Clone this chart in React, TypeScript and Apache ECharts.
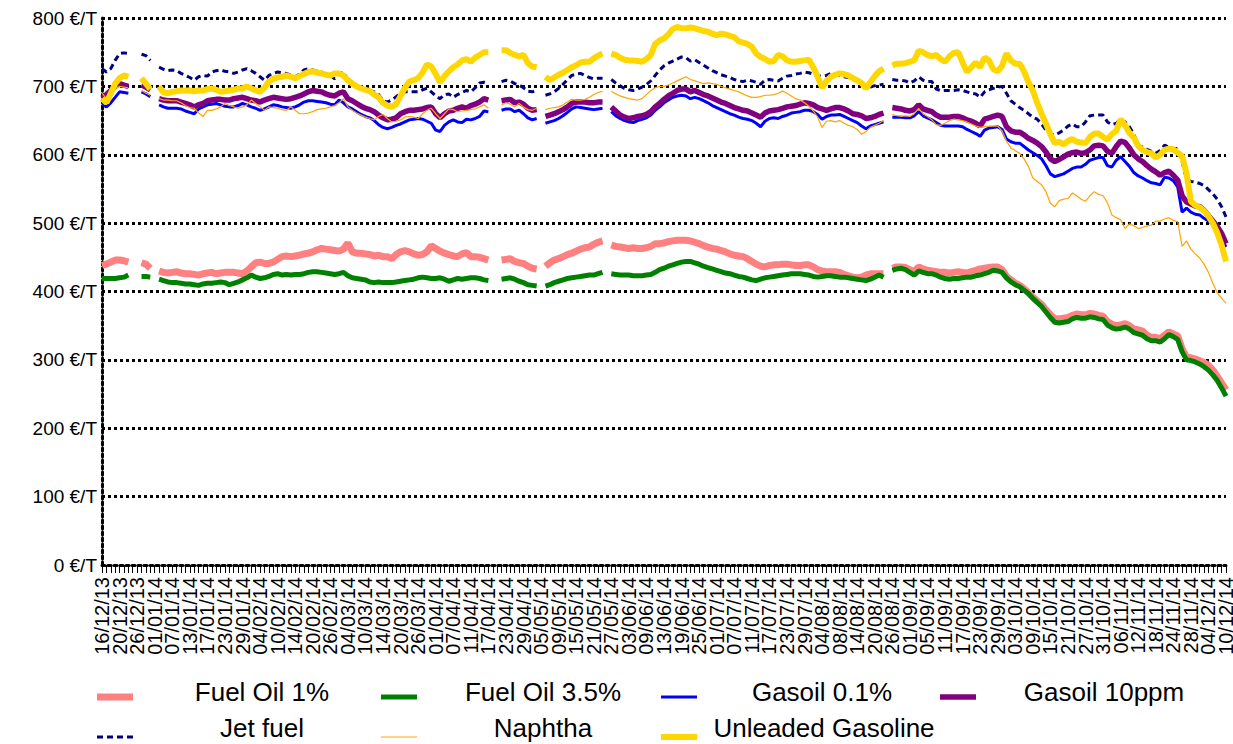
import React, { useEffect, useRef } from "react";
import * as echarts from "echarts";

const categories: string[] = [
  "16/12/13","17/12/13","18/12/13","19/12/13","20/12/13","23/12/13","24/12/13","25/12/13","26/12/13","27/12/13","30/12/13","31/12/13",
  "01/01/14","02/01/14","03/01/14","06/01/14","07/01/14","08/01/14","09/01/14","10/01/14","13/01/14","14/01/14","15/01/14","16/01/14","17/01/14","20/01/14","21/01/14","22/01/14","23/01/14","24/01/14","27/01/14","28/01/14","29/01/14","30/01/14","31/01/14",
  "03/02/14","04/02/14","05/02/14","06/02/14","07/02/14","10/02/14","11/02/14","12/02/14","13/02/14","14/02/14","17/02/14","18/02/14","19/02/14","20/02/14","21/02/14","24/02/14","25/02/14","26/02/14","27/02/14","28/02/14",
  "03/03/14","04/03/14","05/03/14","06/03/14","07/03/14","10/03/14","11/03/14","12/03/14","13/03/14","14/03/14","17/03/14","18/03/14","19/03/14","20/03/14","21/03/14","24/03/14","25/03/14","26/03/14","27/03/14","28/03/14","31/03/14",
  "01/04/14","02/04/14","03/04/14","04/04/14","07/04/14","08/04/14","09/04/14","10/04/14","11/04/14","14/04/14","15/04/14","16/04/14","17/04/14","18/04/14","21/04/14","22/04/14","23/04/14","24/04/14","25/04/14","28/04/14","29/04/14","30/04/14",
  "01/05/14","02/05/14","05/05/14","06/05/14","07/05/14","08/05/14","09/05/14","12/05/14","13/05/14","14/05/14","15/05/14","16/05/14","19/05/14","20/05/14","21/05/14","22/05/14","23/05/14","26/05/14","27/05/14","28/05/14","30/05/14",
  "02/06/14","03/06/14","04/06/14","05/06/14","06/06/14","09/06/14","10/06/14","11/06/14","12/06/14","13/06/14","16/06/14","17/06/14","18/06/14","19/06/14","20/06/14","23/06/14","24/06/14","25/06/14","26/06/14","27/06/14","30/06/14",
  "01/07/14","02/07/14","03/07/14","04/07/14","07/07/14","08/07/14","09/07/14","10/07/14","11/07/14","14/07/14","15/07/14","16/07/14","17/07/14","18/07/14","21/07/14","22/07/14","23/07/14","24/07/14","25/07/14","28/07/14","29/07/14","30/07/14","31/07/14",
  "01/08/14","04/08/14","05/08/14","06/08/14","07/08/14","08/08/14","11/08/14","12/08/14","13/08/14","14/08/14","15/08/14","18/08/14","19/08/14","20/08/14","21/08/14","22/08/14","25/08/14","26/08/14","27/08/14","28/08/14","29/08/14",
  "01/09/14","02/09/14","03/09/14","04/09/14","05/09/14","08/09/14","09/09/14","10/09/14","11/09/14","12/09/14","15/09/14","16/09/14","17/09/14","18/09/14","19/09/14","22/09/14","23/09/14","24/09/14","25/09/14","26/09/14","29/09/14","30/09/14",
  "01/10/14","02/10/14","03/10/14","06/10/14","07/10/14","08/10/14","09/10/14","10/10/14","13/10/14","14/10/14","15/10/14","16/10/14","17/10/14","20/10/14","21/10/14","22/10/14","23/10/14","24/10/14","27/10/14","28/10/14","29/10/14","30/10/14","31/10/14",
  "03/11/14","04/11/14","05/11/14","06/11/14","07/11/14","10/11/14","11/11/14","12/11/14","13/11/14","14/11/14","17/11/14","18/11/14","19/11/14","20/11/14","21/11/14","24/11/14","25/11/14","26/11/14","27/11/14","28/11/14",
  "01/12/14","02/12/14","03/12/14","04/12/14","05/12/14","08/12/14","09/12/14","10/12/14",
];

// every 4th category carries a tick label
const LABEL_EVERY = 4;

const fuelOil1: (number | null)[] = [
  438, 440, 443, 446, 446, 445, 443, null, null, 442,
  440, 434, null, 430, 428, 427, 428, 429, 427, 426,
  426, 425, 424, 426, 427, 428, 426, 427, 428, 428,
  428, 427, 426, 430, 436, 442, 443, 441, 441, 443,
  447, 451, 452, 451, 452, 453, 455, 456, 458, 461,
  463, 462, 461, 460, 459, 462, 471, 458, 456, 456,
  455, 454, 452, 453, 451, 451, 448, 454, 458, 460,
  458, 455, 453, 454, 458, 467, 463, 459, 456, 454,
  452, 451, 455, 457, 451, 451, 450, 448, 446, null,
  null, 446, 447, 448, 444, 442, 441, 437, 434, 433,
  null, 437, 442, 446, 448, 451, 454, 456, 459, 462,
  464, 465, 469, 472, 474, null, 468, 466, 465, 464,
  463, 464, 463, 463, 464, 466, 470, 470, 471, 473,
  474, 475, 475, 475, 474, 472, 470, 467, 465, 463,
  462, 460, 458, 455, 453, 452, 451, 448, 444, 440,
  437, 436, 438, 439, 439, 440, 440, 439, 438, 438,
  439, 439, 436, 432, 430, 429, 429, 429, 428, 425,
  423, 421, 420, 421, 424, 426, 426, 426, 426, null,
  434, 436, 436, 435, 432, 429, 436, 433, 431, 430,
  429, 428, 428, 427, 428, 429, 428, 427, 429, 431,
  433, 434, 435, 436, 436, 432, 422, 417, 412, 409,
  404, 398, 392, 386, 381, 373, 366, 360, 360, 361,
  362, 365, 367, 366, 366, 368, 367, 365, 364, 356,
  352, 350, 351, 353, 350, 345, 344, 342, 336, 333,
  333, 331, 336, 341, 338, 335, 316, 304, 303, 301,
  299, 296, 292, 285, 276, 266, 256,
];

const fuelOil35: (number | null)[] = [
  419, 419, 419, 419, 420, 421, 424, null, null, 422,
  422, 421, null, 418, 416, 414, 413, 413, 412, 411,
  411, 410, 409, 411, 412, 412, 413, 414, 413, 410,
  412, 414, 417, 420, 424, 421, 419, 420, 422, 425,
  426, 424, 425, 424, 425, 425, 426, 428, 429, 429,
  428, 427, 426, 425, 426, 428, 423, 420, 419, 418,
  417, 414, 413, 414, 413, 413, 413, 414, 415, 416,
  417, 418, 420, 421, 420, 419, 419, 420, 418, 415,
  417, 419, 418, 419, 420, 420, 419, 417, 416, null,
  null, 418, 419, 420, 418, 415, 413, 410, 409, 408,
  null, 408, 410, 413, 415, 417, 419, 420, 421, 422,
  423, 424, 424, 426, 428, null, 426, 425, 424, 424,
  424, 423, 423, 423, 424, 425, 428, 432, 434, 437,
  439, 441, 443, 444, 444, 442, 440, 437, 435, 433,
  431, 429, 427, 426, 424, 422, 421, 419, 417, 416,
  418, 420, 421, 422, 423, 424, 425, 426, 426, 426,
  425, 424, 422, 421, 422, 423, 423, 422, 421, 421,
  420, 419, 418, 417, 416, 418, 421, 424, 421, null,
  431, 433, 434, 432, 428, 424, 430, 428, 426, 426,
  424, 421, 419, 418, 419, 419, 420, 421, 421, 423,
  424, 426, 428, 431, 430, 428, 420, 414, 410, 407,
  402, 397, 390, 384, 378, 370, 362, 355, 354, 355,
  356, 360, 362, 361, 361, 363, 362, 360, 359, 351,
  347, 345, 346, 348, 345, 340, 338, 336, 331, 328,
  328, 326, 331, 337, 334, 330, 312, 300, 299, 297,
  294, 290, 285, 278, 270, 259, 247,
];

const gasoil01: (number | null)[] = [
  674, 670, 676, 684, 692, 691, 690, null, null, 692,
  689, 685, null, 673, 670, 668, 668, 668, 667, 664,
  662, 660, 667, 670, 673, 674, 675, 673, 671, 670,
  670, 672, 675, 673, 670, 668, 665, 667, 670, 673,
  672, 670, 669, 668, 670, 673, 677, 679, 679, 678,
  677, 676, 674, 673, 680, 676, 670, 667, 663, 659,
  656, 654, 650, 644, 640, 638, 640, 643, 645, 648,
  651, 652, 653, 652, 649, 646, 636, 634, 643, 648,
  651, 648, 647, 652, 651, 653, 656, 664, 663, null,
  null, 665, 667, 667, 663, 665, 660, 654, 651, 653,
  null, 646, 648, 650, 653, 657, 662, 667, 670, 669,
  668, 667, 666, 667, 668, null, 663, 657, 653, 650,
  648, 647, 650, 652, 654, 658, 665, 670, 676, 680,
  684, 686, 687, 686, 682, 684, 682, 679, 676, 672,
  669, 666, 663, 660, 658, 655, 653, 652, 650, 646,
  641, 649, 653, 654, 653, 656, 658, 661, 662, 663,
  665, 665, 663, 659, 652, 656, 658, 658, 659, 656,
  653, 650, 647, 642, 638, 642, 644, 646, 648, null,
  655, 655, 655, 654, 654, 657, 663, 657, 654, 651,
  647, 643, 642, 642, 642, 642, 641, 637, 634, 631,
  627, 636, 639, 640, 641, 637, 623, 619, 617, 617,
  612, 607, 603, 599, 594, 584, 572, 568, 570, 572,
  576, 580, 582, 582, 586, 592, 594, 596, 596, 584,
  582, 592, 597, 590, 583, 574, 569, 566, 562, 559,
  558, 556, 567, 566, 562, 553, 516, 522, 516, 513,
  512, 507, 503, 498, 488, 477, 465,
];

const gasoil10ppm: (number | null)[] = [
  683, 688, 694, 700, 704, 702, 700, null, null, 702,
  699, 695, null, 682, 680, 679, 679, 679, 677, 675,
  673, 670, 673, 675, 679, 680, 681, 681, 680, 680,
  682, 683, 684, 682, 680, 679, 677, 680, 682, 684,
  683, 682, 681, 682, 684, 686, 689, 692, 694, 693,
  692, 689, 687, 686, 690, 692, 682, 679, 675, 671,
  668, 666, 663, 658, 654, 651, 652, 654, 660, 663,
  665, 665, 666, 667, 669, 670, 660, 654, 660, 664,
  665, 668, 670, 668, 672, 674, 677, 682, 680, null,
  null, 679, 680, 681, 676, 677, 674, 668, 665, 666,
  null, 656, 658, 660, 663, 666, 670, 675, 677, 677,
  677, 676, 676, 677, 677, null, 670, 664, 658, 655,
  653, 654, 656, 657, 659, 663, 670, 675, 681, 686,
  690, 694, 696, 696, 692, 694, 691, 688, 686, 683,
  680, 677, 675, 672, 669, 667, 665, 664, 661, 658,
  655, 661, 664, 665, 666, 668, 670, 671, 672, 674,
  676, 675, 673, 669, 667, 665, 667, 669, 669, 667,
  664, 660, 659, 657, 653, 654, 656, 659, 661, null,
  669, 668, 667, 665, 664, 666, 673, 667, 665, 663,
  658, 655, 655, 655, 656, 656, 654, 651, 649, 646,
  642, 652, 654, 656, 658, 656, 641, 635, 633, 633,
  629, 624, 621, 617, 612, 604, 594, 590, 593, 597,
  601, 603, 604, 602, 603, 607, 613, 614, 613, 605,
  602, 612, 620, 618, 610, 600, 594, 590, 584, 579,
  575, 570, 574, 576, 570, 563, 540, 531, 528, 525,
  524, 519, 511, 503, 495, 485, 470,
];

const jetFuel: (number | null)[] = [
  726, 721, 726, 738, 748, 749, 748, null, null, 747,
  745, 738, null, 728, 725, 723, 724, 723, 719, 716,
  713, 709, 714, 716, 715, 721, 723, 724, 722, 721,
  719, 721, 724, 726, 723, 719, 714, 709, 716, 719,
  721, 720, 719, 716, 714, 718, 724, 726, 724, 722,
  721, 718, 716, 711, 718, 721, 709, 704, 700, 697,
  695, 694, 692, 688, 679, 677, 680, 685, 690, 692,
  692, 692, 692, 695, 697, 692, 686, 682, 688, 689,
  684, 688, 691, 694, 692, 698, 705, 706, 704, null,
  null, 707, 709, 708, 704, 702, 698, 693, 692, 694,
  null, 687, 689, 692, 697, 703, 710, 716, 718, 719,
  716, 713, 711, 712, 712, null, 710, 705, 701, 697,
  695, 694, 696, 699, 703, 708, 716, 724, 730, 734,
  737, 740, 743, 742, 737, 739, 735, 731, 727, 723,
  720, 717, 715, 713, 710, 708, 707, 709, 708, 706,
  703, 709, 710, 709, 708, 712, 715, 716, 718, 719,
  721, 720, 718, 715, 715, 716, 719, 718, 716, 714,
  713, 711, 709, 704, 697, 699, 701, 702, 703, null,
  710, 709, 709, 708, 705, 708, 714, 709, 707, 707,
  696, 694, 694, 694, 694, 695, 694, 692, 690, 689,
  684, 692, 695, 697, 699, 700, 690, 679, 674, 669,
  665, 660, 655, 652, 645, 636, 630, 629, 632, 636,
  642, 645, 641, 641, 648, 657, 658, 658, 658, 648,
  644, 646, 652, 648, 641, 630, 614, 611, 608, 605,
  602, 606, 614, 611, 609, 609, 590, 564, 561, 560,
  558, 555, 549, 543, 535, 524, 509,
];

const naphtha: (number | null)[] = [
  690, 682, 690, 697, 700, 699, 698, null, null, 694,
  690, 687, null, 682, 680, 680, 679, 679, 676, 672,
  669, 668, 661, 656, 665, 665, 667, 670, 675, 672,
  670, 668, 670, 673, 680, 675, 670, 665, 670, 669,
  668, 666, 665, 670, 665, 660, 660, 661, 663, 666,
  667, 668, 670, 672, 676, 682, 670, 665, 661, 658,
  655, 653, 651, 656, 659, 653, 648, 649, 651, 655,
  656, 655, 653, 660, 665, 668, 660, 653, 660, 667,
  666, 663, 664, 665, 666, 667, 670, 673, 668, null,
  null, 673, 676, 674, 670, 675, 670, 666, 665, 668,
  null, 666, 668, 669, 670, 673, 677, 681, 680, 680,
  681, 684, 688, 691, 693, null, 693, 689, 686, 684,
  682, 681, 680, 682, 688, 694, 698, 700, 700, 702,
  705, 708, 711, 714, 710, 708, 706, 704, 705, 704,
  703, 700, 698, 696, 694, 692, 689, 686, 684, 684,
  685, 687, 687, 688, 690, 693, 690, 686, 682, 680,
  676, 671, 664, 655, 640, 649, 650, 648, 650, 646,
  643, 641, 637, 630, 634, 640, 643, 646, 650, null,
  659, 657, 656, 657, 656, 660, 668, 660, 656, 651,
  644, 643, 646, 650, 652, 651, 650, 648, 645, 642,
  640, 641, 642, 642, 642, 635, 620, 610, 606, 602,
  594, 583, 566, 561, 556, 546, 529, 524, 533, 535,
  536, 544, 540, 535, 532, 540, 546, 542, 540, 530,
  512, 508, 505, 492, 499, 496, 492, 494, 496, 497,
  503, 503, 506, 508, 504, 502, 466, 474, 462, 455,
  449, 440, 428, 412, 398, 390, 383,
];

const unleaded: (number | null)[] = [
  682, 676, 690, 704, 712, 716, 714, null, null, 712,
  704, 696, null, 700, 691, 690, 692, 693, 694, 694,
  694, 693, 694, 694, 696, 697, 695, 692, 693, 694,
  695, 697, 697, 700, 697, 694, 692, 698, 707, 711,
  713, 714, 716, 714, 712, 715, 718, 721, 722, 720,
  719, 717, 716, 719, 719, 716, 709, 704, 700, 697,
  695, 693, 688, 684, 676, 672, 670, 674, 686, 698,
  707, 709, 712, 720, 732, 729, 718, 706, 715, 722,
  728, 732, 738, 740, 736, 742, 746, 750, 750, null,
  null, 753, 753, 749, 746, 744, 746, 734, 729, 728,
  null, 714, 709, 713, 717, 720, 724, 728, 731, 735,
  736, 736, 741, 745, 748, null, 748, 746, 742, 739,
  738, 738, 737, 736, 740, 746, 762, 767, 770, 776,
  784, 787, 785, 785, 786, 785, 783, 781, 780, 777,
  775, 777, 776, 774, 772, 766, 764, 762, 758, 748,
  743, 740, 736, 737, 746, 744, 738, 736, 736, 737,
  738, 739, 728, 714, 698, 708, 714, 717, 719, 718,
  716, 712, 709, 705, 697, 706, 715, 722, 726, null,
  731, 733, 733, 734, 736, 738, 752, 750, 746, 744,
  746, 740, 736, 744, 749, 750, 735, 721, 728, 735,
  728, 742, 738, 725, 722, 730, 748, 738, 733, 733,
  722, 706, 694, 676, 660, 645, 630, 617, 619, 615,
  620, 623, 619, 618, 617, 626, 631, 631, 626, 622,
  630, 635, 652, 643, 632, 625, 613, 607, 604, 602,
  596, 600, 607, 609, 608, 603, 598, 573, 532, 526,
  523, 518, 510, 500, 486, 468, 444,
];

const yTicks = { min: 0, max: 800, interval: 100, unit: "€/T" };

const seriesDefs = [
  { name: "Fuel Oil 1%", data: fuelOil1, color: "#FF8080", width: 7, dash: null as number[] | null },
  { name: "Fuel Oil 3.5%", data: fuelOil35, color: "#008000", width: 5, dash: null },
  { name: "Gasoil 0.1%", data: gasoil01, color: "#0000FF", width: 3, dash: null },
  { name: "Gasoil 10ppm", data: gasoil10ppm, color: "#800080", width: 5.5, dash: null },
  { name: "Jet fuel", data: jetFuel, color: "#000080", width: 3, dash: [6, 4] },
  { name: "Naphtha", data: naphtha, color: "#FFA500", width: 1.2, dash: null },
  { name: "Unleaded Gasoline", data: unleaded, color: "#FFD700", width: 6, dash: null },
];

const FONT = "'Liberation Sans', Arial, Helvetica, sans-serif";

// legend layout: [symbol x start, text center x, row]
const legendSlots = [
  [97, 262, 0], [381, 543, 0], [661, 822, 0], [940, 1104, 0],
  [97, 262, 1], [381, 543, 1], [661, 824, 1],
];

export default function App() {
  const ref = useRef<HTMLDivElement>(null);
  useEffect(() => {
    if (!ref.current) return;
    const chart = echarts.init(ref.current, null, { renderer: "svg" });
    const dotted = { color: "#000", width: 3, type: [3, 3] as any };
    const graphic: any[] = [];
    seriesDefs.forEach((s, i) => {
      const [sx, tx, row] = legendSlots[i];
      const rowY = row === 0 ? 692 : 728;
      const symY = row === 0 ? 697 : 737;
      graphic.push({
        type: "line",
        shape: { x1: sx, y1: symY, x2: sx + 36, y2: symY },
        style: { stroke: s.color, lineWidth: s.width, lineDash: s.dash || undefined },
        silent: true,
      });
      graphic.push({
        type: "text",
        x: tx,
        y: rowY,
        style: {
          text: s.name,
          fontSize: 26,
          lineHeight: 20,
          fontFamily: FONT,
          fill: "#000",
          align: "center",
          verticalAlign: "middle",
          textAlign: "center",
          textVerticalAlign: "middle",
        },
        silent: true,
      });
    });
    chart.setOption({
      animation: false,
      backgroundColor: "#fff",
      textStyle: { fontFamily: FONT },
      grid: { left: 102, right: 7, top: 18, bottom: 179, containLabel: false, outerBoundsMode: "none" } as any,
      xAxis: {
        type: "category",
        data: categories,
        boundaryGap: false,
        axisLine: { show: true, lineStyle: dotted },
        axisTick: { show: true, interval: 0, length: 8, lineStyle: { color: "#000", width: 1 } },
        axisLabel: {
          interval: 0,
          formatter: (value: string, index: number) => (index % LABEL_EVERY === 0 ? value : ""),
          rotate: 90,
          margin: 12,
          fontSize: 20,
          lineHeight: 13,
          color: "#000",
          fontFamily: FONT,
          hideOverlap: false,
          showMinLabel: true,
          showMaxLabel: true,
        },
        splitLine: { show: false },
      },
      yAxis: {
        type: "value",
        min: yTicks.min,
        max: yTicks.max,
        interval: yTicks.interval,
        axisLine: { show: true, lineStyle: dotted },
        axisTick: { show: false },
        axisLabel: {
          formatter: (v: number) => `${v} ${yTicks.unit}`,
          fontSize: 19,
          color: "#000",
          margin: 5,
          fontFamily: FONT,
          showMinLabel: true,
          showMaxLabel: true,
        },
        splitLine: { show: true, lineStyle: dotted },
      },
      series: seriesDefs.map((s) => ({
        name: s.name,
        type: "line",
        data: s.data,
        showSymbol: false,
        symbol: "none",
        connectNulls: false,
        lineStyle: { color: s.color, width: s.width, type: s.dash || "solid", cap: "butt" },
        itemStyle: { color: s.color },
        emphasis: { disabled: true },
      })),
      graphic,
    });
    return () => chart.dispose();
  }, []);
  return (
    <div
      ref={ref}
      style={{ position: "fixed", left: 0, top: 0, width: 1233, height: 744, background: "#fff" }}
    />
  );
}
